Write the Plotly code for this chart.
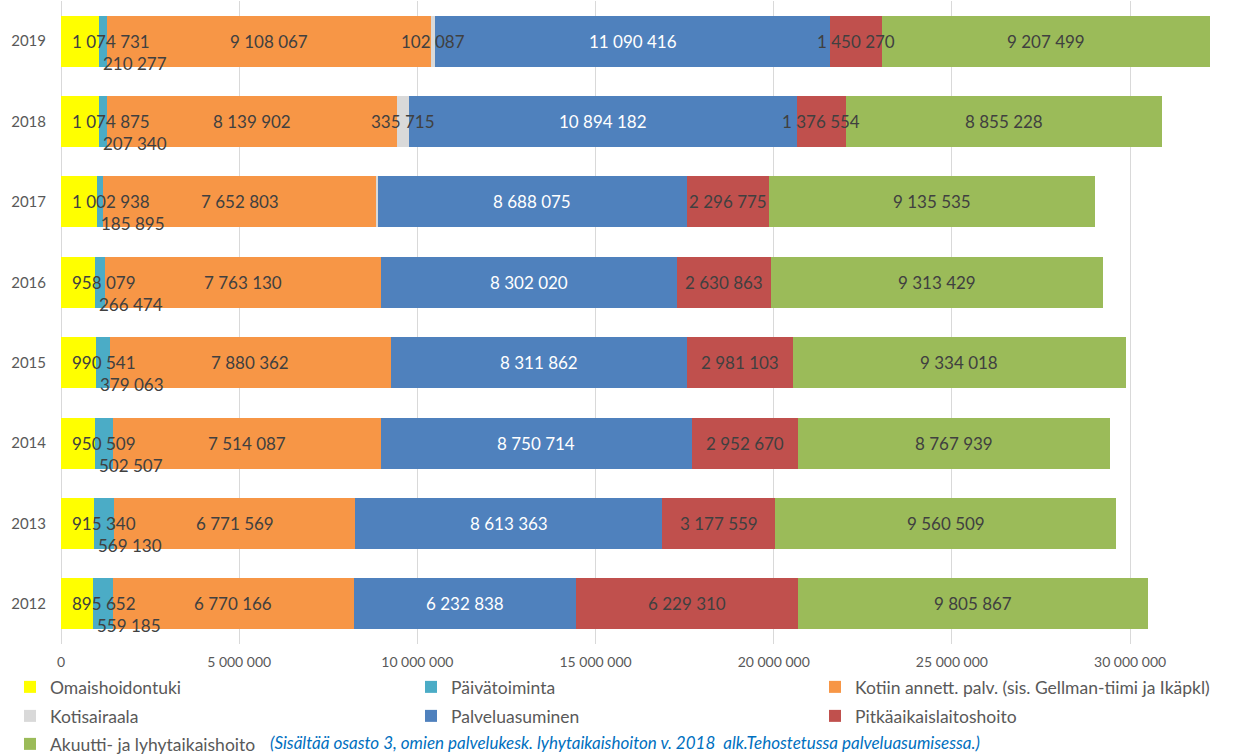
import plotly.graph_objects as go

years = ["2012", "2013", "2014", "2015", "2016", "2017", "2018", "2019"]

series_names = [
    "Omaishoidontuki",
    "Päivätoiminta",
    "Kotiin annett. palv. (sis. Gellman-tiimi ja Ikäpkl)",
    "Kotisairaala",
    "Palveluasuminen",
    "Pitkäaikaislaitoshoito",
    "Akuutti- ja lyhytaikaishoito",
]

omaishoidontuki = [895652, 915340, 950509, 990541, 958079, 1002938, 1074875, 1074731]
paivatoiminta = [559185, 569130, 502507, 379063, 266474, 185895, 207340, 210277]
kotiin_annett = [6770166, 6771569, 7514087, 7880362, 7763130, 7652803, 8139902, 9108067]
kotisairaala = [0, 0, 0, 0, 0, 40000, 335715, 102087]
palveluasuminen = [6232838, 8613363, 8750714, 8311862, 8302020, 8688075, 10894182, 11090416]
pitkaaikais = [6229310, 3177559, 2952670, 2981103, 2630863, 2296775, 1376554, 1450270]
akuutti = [9805867, 9560509, 8767939, 9334018, 9313429, 9135535, 8855228, 9207499]

colors = ["#FFFF00", "#4BACC6", "#F79646", "#D9D9D9", "#4F81BD", "#C0504D", "#9BBB59"]
label_colors = ["#404040", "#404040", "#404040", "#404040", "#FFFFFF", "#404040", "#404040"]

x_ticks = [0, 5000000, 10000000, 15000000, 20000000, 25000000, 30000000]
note_text = "(Sisältää osasto 3, omien palvelukesk. lyhytaikaishoiton v. 2018  alk.Tehostetussa palveluasumisessa.)"

all_series = [omaishoidontuki, paivatoiminta, kotiin_annett, kotisairaala,
              palveluasuminen, pitkaaikais, akuutti]

FONT = "Lato"
L, R, T, B = 61, 0, 1, 110
W, H = 1237, 754
PW, PH = W - L - R, H - T - B


def fmt(v):
    return f"{v:,}".replace(",", " ")


def px_x(p):
    return (p - L) / PW


def px_y(p):
    return (H - B - p) / PH


fig = go.Figure()
legend_names = ["legend", "legend2", "legend3", "legend4", "legend5", "legend6", "legend7"]
for i, (name, vals) in enumerate(zip(series_names, all_series)):
    fig.add_trace(go.Bar(
        y=years, x=vals, name=name, orientation="h",
        marker=dict(color=colors[i], line=dict(width=0)),
        legend=legend_names[i],
        hoverinfo="skip",
    ))

annotations = []
for yi, yr in enumerate(years):
    cum = 0
    for si, vals in enumerate(all_series):
        v = vals[yi]
        start = cum
        cum += v
        if v < 50000:
            continue
        f = dict(family=FONT, size=17, color=label_colors[si])
        if si == 0:
            annotations.append(dict(x=0, y=yi, text=fmt(v), xanchor="left", xshift=9,
                                    showarrow=False, font=f))
        elif si == 1:
            annotations.append(dict(x=start, y=yi, text=fmt(v), xanchor="left", xshift=2, yshift=-22,
                                    showarrow=False, font=f))
        else:
            annotations.append(dict(x=start + v / 2, y=yi, text=fmt(v), xanchor="center",
                                    showarrow=False, font=f))

annotations.append(dict(
    xref="paper", yref="paper", x=px_x(268), y=px_y(743),
    xanchor="left", yanchor="middle", text=note_text, showarrow=False,
    font=dict(family=FONT, size=17, color="#0070C0", style="italic"),
))

# legend positions (pixel left edge of legend box, row centre)
col_left = [10, 411, 815]
row_y = [687, 716, 744]
legend_pos = [(0, 0), (1, 0), (2, 0), (0, 1), (1, 1), (2, 1), (0, 2)]

legend_layouts = {}
for i, (c, r) in enumerate(legend_pos):
    legend_layouts[legend_names[i]] = dict(
        orientation="h", xanchor="left", yanchor="middle",
        x=px_x(col_left[c]), y=px_y(row_y[r]),
        font=dict(family=FONT, size=17.5, color="#595959"),
        bgcolor="rgba(0,0,0,0)", itemwidth=30,
    )

fig.update_layout(
    width=W, height=H,
    margin=dict(l=L, r=R, t=T, b=B, autoexpand=False),
    barmode="stack", bargap=0.365,
    plot_bgcolor="white", paper_bgcolor="white",
    showlegend=True,
    xaxis=dict(range=[0, 33000000], tickvals=x_ticks, ticktext=[fmt(t) for t in x_ticks],
               showgrid=True, gridcolor="#D9D9D9", gridwidth=1, zeroline=True,
               zerolinecolor="#D9D9D9", zerolinewidth=1, showline=False,
               tickfont=dict(family=FONT, size=14, color="#595959"), ticklabelstandoff=8),
    yaxis=dict(type="category", categoryorder="array", categoryarray=years,
               showgrid=False, showline=False, ticks="",
               tickfont=dict(family=FONT, size=15, color="#595959"), ticklabelstandoff=14),
    annotations=annotations,
    **legend_layouts,
)

fig.write_html(
    "out.html",
    config={"displayModeBar": False},
    post_script="document.body.style.margin='0';document.body.style.overflow='hidden';",
)
